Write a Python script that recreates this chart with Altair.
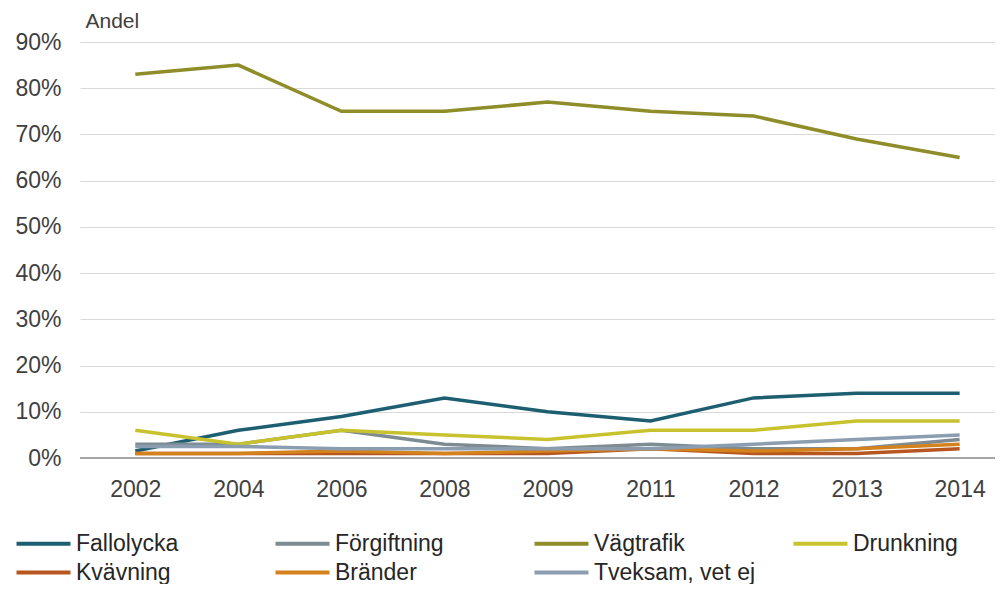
import altair as alt
import pandas as pd

years = ["2002", "2004", "2006", "2008", "2009", "2011", "2012", "2013", "2014"]
series_names = ["Fallolycka", "Förgiftning", "Vägtrafik", "Drunkning",
                "Kvävning", "Bränder", "Tveksam, vet ej"]
colors = ["#1d5e70", "#7d8b92", "#8f8c2a", "#c9c22f", "#b8561f", "#d3821c", "#8b9db0"]

fallolycka = [1.5, 6, 9, 13, 10, 8, 13, 14, 14]
forgiftning = [3, 3, 6, 3, 2, 3, 2, 2, 4]
vagtrafik = [83, 85, 75, 75, 77, 75, 74, 69, 65]
drunkning = [6, 3, 6, 5, 4, 6, 6, 8, 8]
kvavning = [1, 1, 1, 1, 1, 2, 1, 1, 2]
brander = [1, 1, 1.5, 1, 1.5, 2, 1.5, 2, 3]
tveksam = [2.5, 2.5, 2, 2, 2, 2, 3, 4, 5]

all_values = [fallolycka, forgiftning, vagtrafik, drunkning, kvavning, brander, tveksam]
rows = []
for name, vals in zip(series_names, all_values):
    for y, v in zip(years, vals):
        rows.append({"year": y, "serie": name, "andel": v / 100})
df = pd.DataFrame(rows)

FONT = "Liberation Sans"

lines = alt.Chart(df).mark_line(strokeWidth=3.5).encode(
    x=alt.X("year:O", sort=years,
            scale=alt.Scale(type="point", padding=0.44, align=0.61),
            axis=alt.Axis(title=None, labelAngle=0, labelFontSize=23, labelFont=FONT,
                          labelColor="#404040", ticks=False, domain=False,
                          labelPadding=20, grid=False)),
    y=alt.Y("andel:Q", scale=alt.Scale(domain=[0, 0.9], nice=False),
            axis=alt.Axis(format=".0%", values=[0, 0.1, 0.2, 0.3, 0.4, 0.5, 0.6, 0.7, 0.8, 0.9],
                          labelFontSize=23, labelFont=FONT, labelColor="#404040",
                          ticks=False, domain=False, labelPadding=19,
                          gridColor="#d9d9d9", gridWidth=1,
                          title="Andel", titleAngle=0, titleAlign="left",
                          titleBaseline="middle", titleX=5, titleY=-21,
                          titleFontSize=21, titleFont=FONT, titleFontWeight="normal",
                          titleColor="#404040")),
    color=alt.Color("serie:N", sort=series_names,
                    scale=alt.Scale(domain=series_names, range=colors),
                    legend=alt.Legend(title=None, orient="none", legendX=-66, legendY=490,
                                      direction="horizontal", columns=4,
                                      symbolType="M-1,0H5", symbolSize=324,
                                      symbolStrokeWidth=4, labelFontSize=23,
                                      labelFont=FONT, labelColor="#262626",
                                      gridAlign="all", columnPadding=29,
                                      rowPadding=5, labelOffset=39,
                                      labelLimit=300)),
    order=alt.Order("serie:N"),
)

zero = alt.Chart(pd.DataFrame({"z": [0]})).mark_rule(color="#a6a6a6", strokeWidth=2).encode(
    y="z:Q"
)

chart = alt.layer(lines, zero).properties(
    width=915, height=416,
    autosize=alt.AutoSizeParams(type="none"),
    padding={"left": 72, "top": 34, "right": 0, "bottom": 126},
).configure_view(stroke=None)

chart.save("out.html", embed_options={"renderer": "svg", "actions": False})
